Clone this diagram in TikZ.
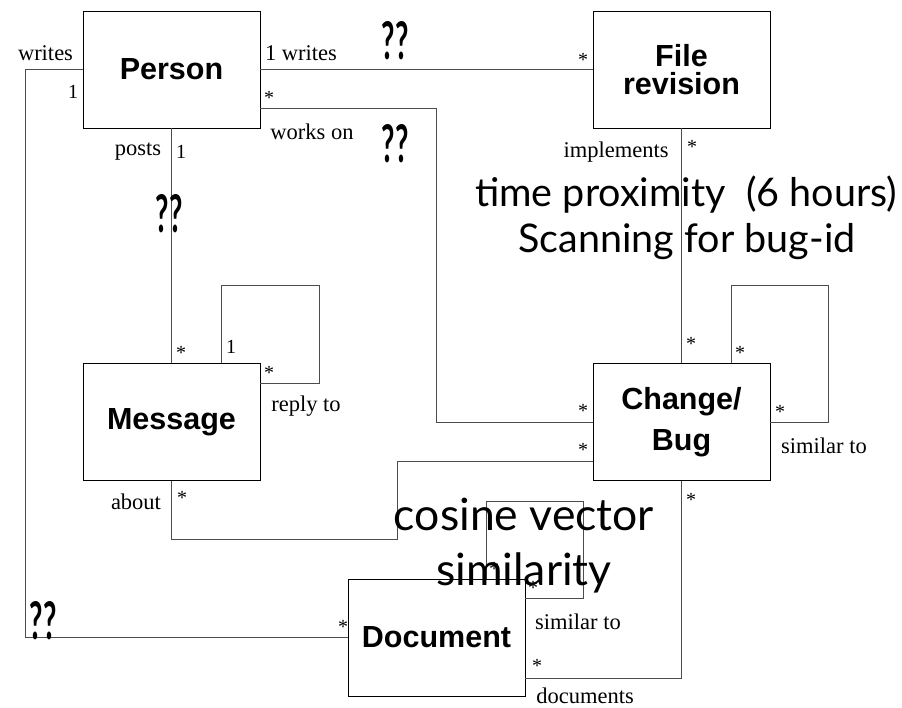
\documentclass[tikz,border=0pt]{standalone}
\usepackage{fontspec}
\usepackage{graphicx}
\setmainfont{Liberation Serif}
\newfontfamily\boxfont{Liberation Sans}
\newfontfamily\gill{Lato}
\usetikzlibrary{calc}
\tikzset{
  entity/.style={draw=black, line width=0.9pt, minimum width=177pt, minimum height=117pt, inner sep=0pt,
    align=center, font=\boxfont\bfseries\fontsize{30.5}{30.5}\selectfont},
  conn/.style={draw=black!70, line width=0.9pt},
  lbl/.style={inner sep=0pt, font=\fontsize{22.5}{22.5}\selectfont},
  mult/.style={inner sep=0pt, font=\fontsize{20}{20}\selectfont},
  qq/.style={inner sep=0pt, font=\gill\bfseries\fontsize{52}{52}\selectfont},
  note/.style={inner sep=0pt, anchor=base, font=\gill\fontsize{39.5}{39.5}\selectfont},
  note2/.style={inner sep=0pt, anchor=base, font=\gill\fontsize{44.5}{44.5}\selectfont}
}
\begin{document}
\begin{tikzpicture}[x=1pt,y=-1pt]
\useasboundingbox (0,0) rectangle (902,708);
% entities
\node[entity] (Person) at (171.5,69.5) {Person};
\node[entity] (FileRev) at (681.5,69.5) {\raisebox{-5pt}{File}\\[-2pt]\raisebox{-5pt}{revision}};
\node[entity] (Message) at (171.5,422) {Message};
\node[entity] (Change) at (681.5,422) {\raisebox{-3pt}{Change/}\\[10pt]\raisebox{-3pt}{Bug}};
\node[entity] (Document) at (436.5,637.5) {Document};
% connectors
\coordinate (wl) at (25,0);
\draw[conn] (Person.west) -| (wl |- Document.west) -- (Document.west);
\draw[conn] (Person.east) -- (FileRev.west);
\coordinate (wo) at (436,0);
\draw[conn] ([yshift=-38.5pt]Person.east) -| (wo |- Change.west) -- (Change.west);
\draw[conn] (Person.south) -- (Message.north);
\coordinate (rt) at (319,285);
\draw[conn] ([xshift=49.5pt]Message.north) |- (rt) |- ([yshift=39pt]Message.east);
\draw[conn] (FileRev.south) -- (Change.north);
\coordinate (ct) at (828,285);
\draw[conn] ([xshift=49.5pt]Change.north) |- (ct) |- (Change.east);
\coordinate (ab1) at (397,539);
\draw[conn] (Message.south) |- (ab1) |- ([yshift=-39pt]Change.west);
\draw[conn] ([yshift=-40.5pt]Document.east) -| (Change.south);
\coordinate (dt) at (583,501);
\draw[conn] ([xshift=49.5pt]Document.north) |- (dt) |- ([yshift=39.5pt]Document.east);
% labels
\node[lbl] (l1) at (45.5,53) {writes};
\node[mult] (m1) at (73,92) {1};
\node[lbl] (l2) at (301,53) {1 writes};
\node[mult] (m2) at (269,98) {*};
\node[lbl] (l3) at (312,132) {works on};
\node[lbl] (l4) at (138,152) {posts};
\node[mult] (m3) at (181,152) {1};
\node[mult] (m4) at (583,60) {*};
\node[lbl] (l5) at (616,152) {implements};
\node[mult] (m5) at (692,147) {*};
\node[mult] (m6) at (691,344) {*};
\node[mult] (m7) at (740,353) {*};
\node[mult] (m8) at (780,412) {*};
\node[lbl] (l6) at (824,446) {similar to};
\node[mult] (m9) at (583,411) {*};
\node[mult] (m10) at (583,450) {*};
\node[mult] (m11) at (691,500) {*};
\node[mult] (m12) at (181,353) {*};
\node[mult] (m13) at (231,347) {1};
\node[mult] (m14) at (269,373) {*};
\node[lbl] (l7) at (306,406) {reply to};
\node[lbl] (l8) at (136,502) {about};
\node[mult] (m15) at (182,498) {*};
\node[mult] (m16) at (343,627) {*};
\node[mult] (m17) at (494,569) {*};
\node[mult] (m18) at (533,588) {*};
\node[lbl] (l9) at (578,622) {similar to};
\node[mult] (m19) at (537,666) {*};
\node[lbl] (l10) at (585,696) {documents};
% question marks
\node[qq] (q1) at (395,41) {\scalebox{0.56}[1]{??}};
\node[qq] (q2) at (395,144) {\scalebox{0.56}[1]{??}};
\node[qq] (q3) at (169,214) {\scalebox{0.56}[1]{??}};
\node[qq] (q4) at (43,621) {\scalebox{0.56}[1]{??}};
% notes
\node[note] (n1) at (686,207) {time proximity\ \ (6 hours)};
\node[note] (n1b) at (687,253) {Scanning for bug-id};
\node[note2] (n2) at (524,530) {cosine vector};
\node[note2] (n2b) at (524,585) {similarity};
\end{tikzpicture}
\end{document}
